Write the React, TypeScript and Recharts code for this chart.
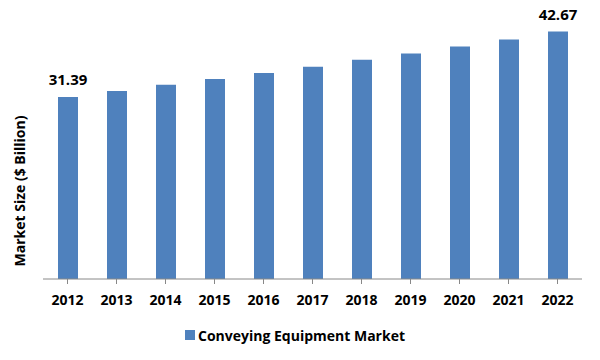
import { BarChart, Bar, XAxis, YAxis, Legend, LabelList } from "recharts";

// ── Data ───────────────────────────────────────────────────────────────
const years = ["2012", "2013", "2014", "2015", "2016", "2017", "2018", "2019", "2020", "2021", "2022"];
const marketSize = [31.39, 32.4, 33.5, 34.5, 35.5, 36.6, 37.8, 38.9, 40.1, 41.3, 42.67];
const seriesName = "Conveying Equipment Market";
const yLabel = "Market Size ($ Billion)";

const data = years.map((year, i) => ({ year, value: marketSize[i] }));

const BLUE = "#4f81bd";
const FONT = "'Open Sans', sans-serif";

// only the first and last bars carry a value label
function EndLabel(props: any) {
  const { x, y, width, value, index } = props;
  if (index !== 0 && index !== data.length - 1) return null;
  return (
    <text x={Number(x) + Number(width) / 2} y={Number(y) - 12} textAnchor="middle"
      fontSize={15} fontWeight={700} fill="#000" fontFamily={FONT}>
      {Number(value).toFixed(2)}
    </text>
  );
}

function LegendContent() {
  return (
    <div style={{ display: "flex", justifyContent: "center", alignItems: "center", paddingTop: 16, paddingLeft: 8, height: 20, fontFamily: FONT }}>
      <span style={{ width: 10, height: 10, background: BLUE, display: "inline-block", marginRight: 3 }} />
      <span style={{ fontSize: 14, fontWeight: 700, color: "#000" }}>{seriesName}</span>
    </div>
  );
}

export default function App() {
  return (
    <div style={{ width: 600, height: 360, margin: -8, background: "#fff", fontFamily: FONT }}>
      <BarChart width={600} height={360} data={data} margin={{ top: 18, right: 18, left: 0, bottom: 0 }}>
        <XAxis dataKey="year" height={30} tickSize={5} tickMargin={11}
          axisLine={{ stroke: "#888" }} tickLine={{ stroke: "#888" }}
          tick={{ fontSize: 14, fontWeight: 700, fill: "#000", fontFamily: FONT }}
          interval={0}
        />
        <YAxis width={43} domain={[0, 45]} tick={false} axisLine={false} tickLine={false}
          label={{
            content: () => (
              <text transform="translate(19,191) rotate(-90)" textAnchor="middle" dominantBaseline="central"
                fontSize={14} fontWeight={700} fill="#000" fontFamily={FONT}>
                {yLabel}
              </text>
            ),
          }}
        />
        <Legend verticalAlign="bottom" height={51} content={<LegendContent />} />
        <Bar dataKey="value" name={seriesName} fill={BLUE} barSize={20} isAnimationActive={false}>
          <LabelList dataKey="value" content={<EndLabel />} />
        </Bar>
      </BarChart>
    </div>
  );
}
